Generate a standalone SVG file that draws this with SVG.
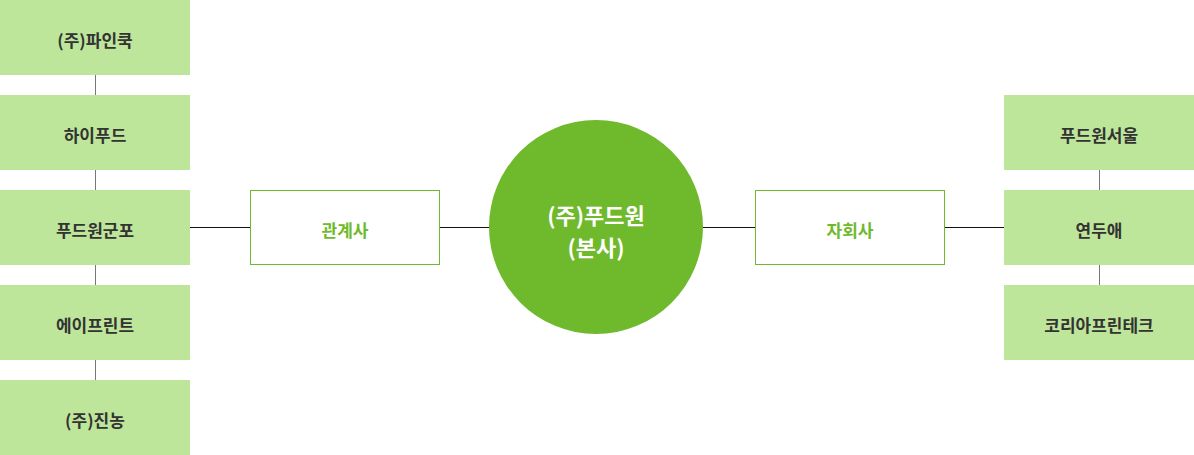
<svg xmlns="http://www.w3.org/2000/svg" width="1194" height="455" viewBox="0 0 1194 455">
<style>
.sub{fill:#bee69a}
.lbl{font-family:"Noto Sans CJK KR","Noto Sans",sans-serif;font-weight:bold;font-size:17px;fill:#333;text-anchor:middle;dominant-baseline:central}
.cat{fill:#fff;stroke:#6fb92c;stroke-width:1}
.catt{font-family:"Noto Sans CJK KR","Noto Sans",sans-serif;font-weight:bold;font-size:17px;fill:#6fb92c;text-anchor:middle;dominant-baseline:central}
.hq{font-family:"Noto Sans CJK KR","Noto Sans",sans-serif;font-weight:bold;font-size:22px;fill:#fff;text-anchor:middle;dominant-baseline:central}
.v{stroke:#777;stroke-width:1}
.h{stroke:#111;stroke-width:1}
</style>
<g id="connectors">
<line class="v" x1="95.5" y1="75" x2="95.5" y2="95"/>
<line class="v" x1="95.5" y1="170" x2="95.5" y2="190"/>
<line class="v" x1="95.5" y1="265" x2="95.5" y2="285"/>
<line class="v" x1="95.5" y1="360" x2="95.5" y2="380"/>
<line class="v" x1="1099.5" y1="170" x2="1099.5" y2="190"/>
<line class="v" x1="1099.5" y1="265" x2="1099.5" y2="285"/>
<line class="h" x1="190" y1="227.5" x2="250" y2="227.5"/>
<line class="h" x1="440" y1="227.5" x2="490" y2="227.5"/>
<line class="h" x1="703" y1="227.5" x2="755" y2="227.5"/>
<line class="h" x1="945" y1="227.5" x2="1004" y2="227.5"/>
</g>
<g id="n-pinecook"><rect class="sub" x="0" y="0" width="190" height="75"/><text class="lbl" x="95" y="39">(주)파인쿡</text></g>
<g id="n-hifood"><rect class="sub" x="0" y="95" width="190" height="75"/><text class="lbl" x="95" y="134">하이푸드</text></g>
<g id="n-gunpo"><rect class="sub" x="0" y="190" width="190" height="75"/><text class="lbl" x="95" y="229">푸드원군포</text></g>
<g id="n-aprint"><rect class="sub" x="0" y="285" width="190" height="75"/><text class="lbl" x="95" y="324">에이프린트</text></g>
<g id="n-jinnong"><rect class="sub" x="0" y="380" width="190" height="75"/><text class="lbl" x="95" y="419">(주)진농</text></g>
<g id="n-affiliates"><rect class="cat" x="250.5" y="190.5" width="189" height="74"/><text class="catt" x="345" y="229">관계사</text></g>
<g id="n-hq"><circle cx="596" cy="227" r="107" fill="#6fb92c"/><text class="hq" x="596" y="214">(주)푸드원</text><text class="hq" x="596" y="246">(본사)</text></g>
<g id="n-subsidiaries"><rect class="cat" x="755.5" y="190.5" width="189" height="74"/><text class="catt" x="850" y="229">자회사</text></g>
<g id="n-seoul"><rect class="sub" x="1004" y="95" width="190" height="75"/><text class="lbl" x="1099" y="134">푸드원서울</text></g>
<g id="n-yeondu"><rect class="sub" x="1004" y="190" width="190" height="75"/><text class="lbl" x="1099" y="229">연두애</text></g>
<g id="n-korea"><rect class="sub" x="1004" y="285" width="190" height="75"/><text class="lbl" x="1099" y="324">코리아프린테크</text></g>
</svg>
